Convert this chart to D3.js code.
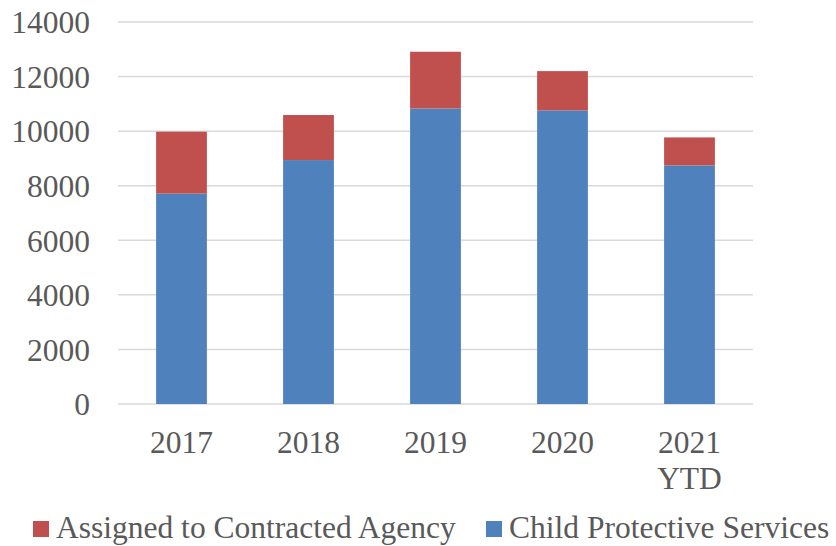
<!DOCTYPE html>
<html><head><meta charset="utf-8">
<script src="https://cdn.jsdelivr.net/npm/d3@7"></script>
<style>
html,body{margin:0;padding:0;background:#fff;}
text{font-family:"Liberation Serif","Times New Roman",serif;fill:#595959;}
</style></head>
<body>
<svg id="c" width="836" height="546"></svg>
<script>
const categories = [["2017"],["2018"],["2019"],["2020"],["2021","YTD"]];
const cps = [7710, 8940, 10830, 10760, 8745];
const contracted = [2270, 1650, 2080, 1440, 1025];
const yTicks = [0,2000,4000,6000,8000,10000,12000,14000];
const seriesNames = ["Assigned to Contracted Agency","Child Protective Services"];
const colors = {cps:"#4f81bd", contracted:"#c0504d"};

(function(){
const FS = 31.5;
const svg = d3.select("#c");
const pLeft = 118, pRight = 753, pTop = 22, pBottom = 404;
const keys = categories.map(c => c.join(" "));
const x = d3.scaleBand().domain(keys).range([pLeft, pRight]).paddingInner(0.6).paddingOuter(0.3);
const y = d3.scaleLinear().domain([0,14000]).range([pBottom, pTop]);

// gridlines
svg.append("g").selectAll("line").data(yTicks).join("line")
  .attr("x1", pLeft).attr("x2", pRight)
  .attr("y1", d => y(d)).attr("y2", d => y(d))
  .attr("stroke", "#d9d9d9").attr("stroke-width", 1.5);

// y labels
const yAxis = d3.axisLeft(y).tickValues(yTicks).tickSize(0).tickPadding(0).tickFormat(d3.format("d"));
const ya = svg.append("g").attr("transform", `translate(90,0)`).call(yAxis);
ya.select(".domain").remove();
ya.selectAll("text").attr("font-size", FS).attr("fill", "#595959")
  .style("font-family", '"Liberation Serif",serif').attr("dy", "0.34em");

// bars
const data = keys.map((k,i) => ({k, cps: cps[i], contracted: contracted[i]}));
const stack = d3.stack().keys(["cps","contracted"])(data);
svg.append("g").selectAll("g").data(stack).join("g")
  .attr("fill", s => colors[s.key])
  .selectAll("rect").data(s => s).join("rect")
  .attr("x", d => x(d.data.k)).attr("width", x.bandwidth())
  .attr("y", d => y(d[1])).attr("height", d => y(d[0]) - y(d[1]));

// x labels
const xl = svg.append("g");
categories.forEach((c,i) => {
  const cx = x(keys[i]) + x.bandwidth()/2;
  const t = xl.append("text").attr("text-anchor","middle").attr("font-size",FS)
    .attr("x", cx).attr("y", 452.5);
  c.forEach((line,j) => t.append("tspan").attr("x", cx).attr("dy", j ? 36 : 0).text(line));
});

// legend
const leg = [{name: seriesNames[0], color: colors.contracted, x: 33}, {name: seriesNames[1], color: colors.cps, x: 486}];
const lg = svg.append("g");
leg.forEach(l => {
  lg.append("rect").attr("x", l.x).attr("y", 521).attr("width", 16).attr("height", 16).attr("fill", l.color);
  lg.append("text").attr("x", l.x + 23).attr("y", 538).attr("font-size", FS).text(l.name);
});
})();
</script>
</body></html>
